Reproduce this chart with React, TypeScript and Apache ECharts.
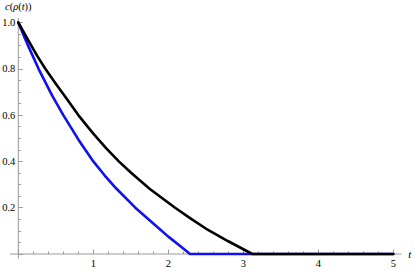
import React, { useEffect, useRef } from "react";
import * as echarts from "echarts";

// Black curve c(ρ(t))
const blackT = [0, 0.12, 0.25, 0.36, 0.5, 0.65, 0.8, 1.0, 1.17, 1.34, 1.5, 1.75, 2.09, 2.3, 2.5, 2.8, 3.12, 5];
const blackC = [1, 0.93, 0.857, 0.8, 0.735, 0.668, 0.6, 0.52, 0.457, 0.4, 0.352, 0.282, 0.2, 0.153, 0.11, 0.055, 0, 0];
// Blue curve
const blueT = [0, 0.13, 0.27, 0.45, 0.6, 0.8, 1.0, 1.15, 1.3, 1.56, 1.8, 2.0, 2.15, 2.29, 5];
const blueC = [1, 0.9, 0.8, 0.685, 0.6, 0.495, 0.4, 0.34, 0.285, 0.2, 0.132, 0.075, 0.037, 0, 0];

const xLabels = [1, 2, 3, 4, 5];
const yLabels = [0.2, 0.4, 0.6, 0.8, 1.0];
const xLineExtent = [-0.11, 5.11];
const yLineExtent = [-0.02, 1.02];

const SERIF = "Liberation Serif, DejaVu Serif, serif";
const AXIS_GRAY = "#9a9a9a";

export default function App() {
  const ref = useRef<HTMLDivElement>(null);

  useEffect(() => {
    document.body.style.margin = "0";
    const chart = echarts.init(ref.current!, null, { renderer: "svg" });
    const option: any = {
      animation: false,
      backgroundColor: "#ffffff",
      textStyle: { fontFamily: SERIF },
      grid: {
        left: 18.3,
        right: 21.7,
        top: 22.5,
        bottom: 17,
        containLabel: false,
        outerBoundsMode: "none",
      },
      xAxis: {
        type: "value",
        min: 0,
        max: 5,
        interval: 1,
        name: "t",
        nameLocation: "end",
        nameGap: 15,
        nameTextStyle: { fontFamily: SERIF, fontStyle: "italic", fontSize: 11, color: "#000", verticalAlign: "middle" },
        axisLine: { show: false },
        axisTick: { show: true, inside: true, length: 4.5, lineStyle: { color: AXIS_GRAY, width: 1 } },
        minorTick: { show: true, splitNumber: 5, length: 2.5, lineStyle: { color: AXIS_GRAY, width: 1 } },
        splitLine: { show: false },
        axisLabel: {
          margin: 4,
          fontFamily: SERIF,
          fontSize: 10.5,
          color: "#000",
          showMinLabel: false,
          formatter: (v: number) => {
            const m = xLabels.find((x) => Math.abs(x - v) < 1e-6);
            return m === undefined ? "" : String(m);
          },
        },
      },
      yAxis: {
        type: "value",
        min: 0,
        max: 1,
        interval: 0.2,
        name: "{i|c}({i|ρ}({i|t}))",
        nameLocation: "end",
        nameGap: 11,
        nameTextStyle: {
          fontFamily: SERIF,
          fontSize: 10.5,
          color: "#000",
          rich: { i: { fontFamily: SERIF, fontStyle: "italic", fontSize: 10.5, color: "#000" } },
        },
        axisLine: { show: false },
        axisTick: { show: true, inside: true, length: 4.5, lineStyle: { color: AXIS_GRAY, width: 1 } },
        minorTick: { show: true, splitNumber: 4, length: 2.5, lineStyle: { color: AXIS_GRAY, width: 1 } },
        splitLine: { show: false },
        axisLabel: {
          margin: 3,
          fontFamily: SERIF,
          fontSize: 10.5,
          color: "#000",
          showMinLabel: false,
          formatter: (v: number) => {
            const m = yLabels.find((y) => Math.abs(y - v) < 1e-6);
            return m === undefined ? "" : m.toFixed(1);
          },
        },
      },
      series: [
        {
          type: "line",
          data: blueT.map((t, i) => [t, blueC[i]]),
          showSymbol: false,
          smooth: false,
          clip: false,
          lineStyle: { color: "#1010f0", width: 2.6, join: "round", cap: "round" },
          z: 3,
        },
        {
          type: "line",
          data: blackT.map((t, i) => [t, blackC[i]]),
          showSymbol: false,
          smooth: false,
          clip: false,
          lineStyle: { color: "#000000", width: 2.6, join: "round", cap: "round" },
          z: 4,
        },
      ],
    };
    chart.setOption(option);

    const px0 = chart.convertToPixel({ gridIndex: 0 }, [xLineExtent[0], 0]) as number[];
    const px1 = chart.convertToPixel({ gridIndex: 0 }, [xLineExtent[1], 0]) as number[];
    const py0 = chart.convertToPixel({ gridIndex: 0 }, [0, yLineExtent[0]]) as number[];
    const py1 = chart.convertToPixel({ gridIndex: 0 }, [0, yLineExtent[1]]) as number[];
    chart.setOption({
      graphic: [
        {
          type: "line",
          z: 1,
          shape: { x1: px0[0], y1: px0[1], x2: px1[0], y2: px1[1] },
          style: { stroke: AXIS_GRAY, lineWidth: 1 },
        },
        {
          type: "line",
          z: 1,
          shape: { x1: py0[0], y1: py0[1], x2: py1[0], y2: py1[1] },
          style: { stroke: AXIS_GRAY, lineWidth: 1 },
        },
      ],
    });

    return () => chart.dispose();
  }, []);

  return (
    <div
      ref={ref}
      style={{ position: "fixed", left: 0, top: 0, width: 415, height: 271, background: "#fff" }}
    />
  );
}
